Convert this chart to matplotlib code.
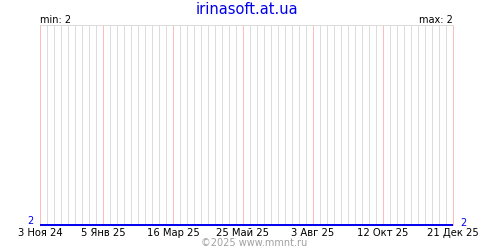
import matplotlib
matplotlib.use("Agg")
import matplotlib.pyplot as plt
import pandas as pd

# data
series_dates = ["2024-11-03", "2025-12-21"]
series_values = [2, 2]
tick_dates = ["2024-11-03", "2025-01-05", "2025-03-16", "2025-05-25",
              "2025-08-03", "2025-10-12", "2025-12-21"]
tick_labels = ["3 Ноя 24", "5 Янв 25", "16 Мар 25", "25 Май 25",
               "3 Авг 25", "12 Окт 25", "21 Дек 25"]
title = "irinasoft.at.ua"
min_val, max_val = 2, 2
credit = "©2025 www.mmnt.ru"

BLUE = "#0000ee"
PINK = "#ffbcbc"
GRAY = "#dcdcdc"
PX = 0.72  # one pixel at 100 dpi, in points

fig = plt.figure(figsize=(5, 2.5), dpi=100)
ax = fig.add_axes([0.08, 0.10, 0.826, 0.80])

x = pd.to_datetime(series_dates)
start, end = pd.Timestamp(series_dates[0]), pd.Timestamp(series_dates[-1])
majors = pd.to_datetime(tick_dates)

# weekly grey lines, then pink ones on the labelled dates
weeks = [d for d in pd.date_range(start, end, freq="7D") if d not in set(majors)]
ax.vlines(weeks, 0, 1, transform=ax.get_xaxis_transform(), colors=GRAY,
          lw=PX, zorder=1, antialiased=False)
ax.vlines(majors, 0, 1, transform=ax.get_xaxis_transform(), colors=PINK,
          lw=PX, zorder=2, antialiased=False, clip_on=False)

ax.plot(x, series_values, color=BLUE, lw=1.4, zorder=3,
        solid_capstyle="butt", clip_on=False)

ax.set_xlim(start, end)
ax.set_ylim(min_val, min_val + 1)
for s in ["left", "right", "bottom"]:
    ax.spines[s].set_visible(False)
ax.spines["top"].set_color(GRAY)
ax.spines["top"].set_linewidth(PX)
ax.spines["top"].set_antialiased(False)

ax.set_xticks(majors)
ax.set_xticklabels(tick_labels, fontsize=7.2)
ax.tick_params(axis="x", length=0, pad=2)
ax.set_yticks([])

fig.text(0.493, 0.945, title, color=BLUE, fontsize=10.5, ha="center", va="baseline")
fig.text(0.081, 0.909, f"min: {min_val}", fontsize=7, ha="left", va="baseline")
fig.text(0.906, 0.909, f"max: {max_val}", fontsize=7, ha="right", va="baseline")
fig.text(0.067, 0.104, str(series_values[0]), color=BLUE, fontsize=7, ha="right", va="baseline")
fig.text(0.921, 0.098, str(series_values[-1]), color=BLUE, fontsize=7, ha="left", va="baseline")
fig.text(0.508, 0.016, credit, color="#a0a0a0", fontsize=7, ha="center", va="baseline")

fig.savefig("out.png", dpi=100)
